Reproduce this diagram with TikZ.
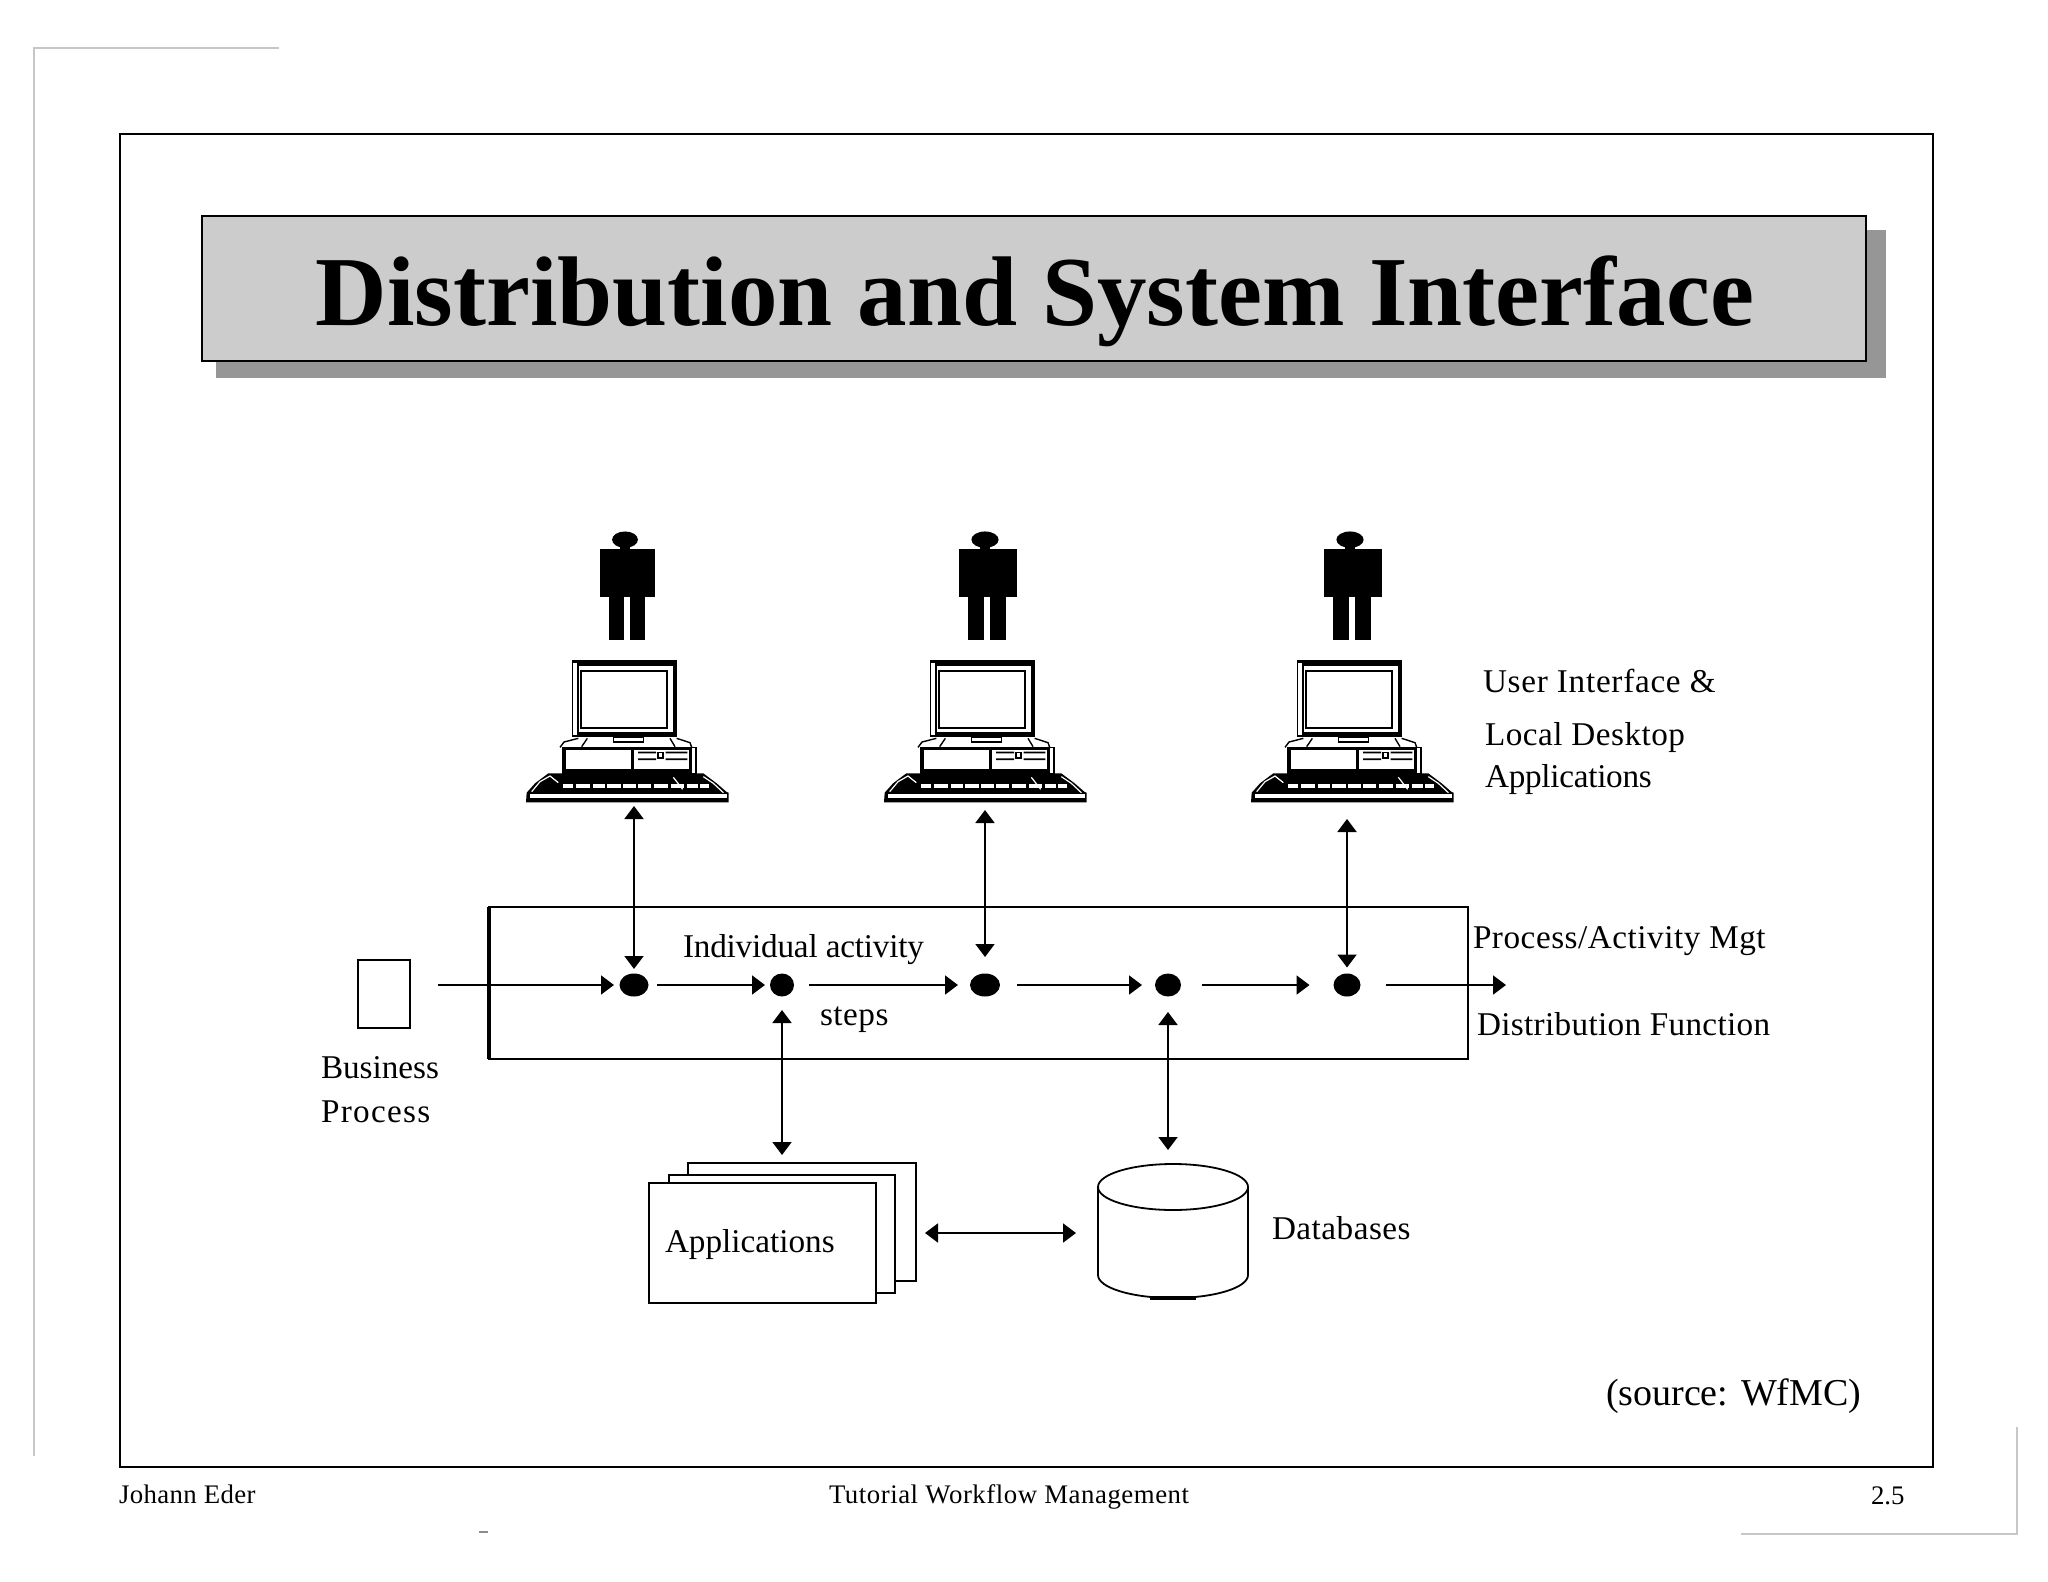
\documentclass[tikz,border=0pt]{standalone}
\usepackage{fontspec}
\setmainfont{Liberation Serif}
\usetikzlibrary{arrows.meta,shapes.geometric}
\newcommand{\fs}[1]{\fontsize{#1pt}{#1pt}\selectfont}
\newcommand{\ls}[1]{\addfontfeatures{LetterSpace=#1}}
\tikzset{
  cornerline/.style={line width=0.9pt,draw=black!22},
  lbl/.style={anchor=base west,inner sep=0pt,outer sep=0pt,font=\fs{16.6}},
  foot/.style={anchor=base west,inner sep=0pt,outer sep=0pt,font=\fs{13.4}},
  box/.style={draw,rectangle,inner sep=0pt,outer sep=0pt,line width=1.1pt,fill=white},
  ghost/.style={rectangle,inner sep=0pt,outer sep=0pt},
  dot/.style={ellipse,fill=black,inner sep=0pt,outer sep=0pt,minimum height=11.5pt},
  flow/.style={line width=0.95pt,-{Triangle[length=6.5pt,width=9.5pt]}},
  both/.style={line width=0.95pt,{Triangle[length=6.5pt,width=9.5pt]}-{Triangle[length=6.5pt,width=9.5pt]}},
  person/.pic={
    \begin{scope}[x=0.16667pt,y=-0.16667pt]
      \fill (0,119) ellipse [x radius=6.8pt,y radius=4.1pt];
      \fill (-16,130) rectangle (16,150);
      \fill (-78,146) rectangle (96,291);
      \fill (-50,280) rectangle (-3,419);
      \fill (15,280) rectangle (62,419);
    \end{scope}
  },
  computer/.pic={
    \begin{scope}[x=0.16667pt,y=-0.16667pt]
      % monitor
      \fill (215,480) rectangle (530,712);
      \fill[white] (219,490) rectangle (232,705);
      \fill[white] (238,497) rectangle (520,697);
      \draw[line width=1.1pt,fill=white] (243,514) rectangle (500,683);
      \draw[line width=0.8pt,fill=white] (340,712) rectangle (430,726);
      % desk lines
      \draw[line width=0.7pt] (180,742) -- (192,726) -- (235,715) (245,740) -- (262,715);
      \draw[line width=0.7pt] (510,715) -- (525,740) (530,715) -- (570,728) -- (575,742);
      % case
      \fill (185,740) rectangle (592,825);
      \fill[white] (197,750) rectangle (392,808);
      \fill[white] (402,750) rectangle (568,808);
      \fill[white] (575,745) rectangle (585,820);
      \fill (414,755) rectangle (468,760) (414,775) rectangle (468,780);
      \fill (497,755) rectangle (562,760) (497,775) rectangle (562,780);
      \fill (472,755) rectangle (492,778);
      \fill[white] (476,760) rectangle (487,770);
      % keyboard
      \fill (145,820) -- (610,820) -- (650,850) -- (680,876) -- (686,878) -- (686,907)
        -- (78,907) -- (80,878) -- (105,850) -- cycle;
      \fill[white] (90,881) rectangle (680,895);
      \foreach \a/\b in {190/220,228/270,278/315,322/362,370/408,415/452,462/505,513/552,560/595,600/628}
        \fill[white] (\a,852) rectangle (\b,864);
      \draw[white,line width=0.6pt] (95,875) -- (120,845) -- (150,828) -- (175,848);
      \draw[white,line width=0.6pt] (610,830) -- (640,850) -- (670,878);
      \draw[white,line width=0.6pt] (520,832) -- (548,868);
    \end{scope}
  }
}
\begin{document}
\begin{tikzpicture}[x=0.5pt,y=-0.5pt]
\useasboundingbox (0,0) rectangle (2048,1582);
\fill[white] (0,0) rectangle (2048,1582);

% page corners left from the scan
\draw[cornerline] (279,48) -- (34,48) -- (34,1456);
\draw[cornerline] (1741,1534) -- (2017,1534) -- (2017,1427);
\draw[black!45,line width=0.7pt] (479,1532) -- (488,1532);

% slide frame
\draw[line width=1.25pt] (120,134) rectangle (1933,1467);

% title
\fill[black!41] (216,230) rectangle (1886,378);
\node[box,fill=black!20,minimum width=832pt,minimum height=72.5pt] (titlebox) at (1034,288.5) {};
\node[anchor=base,inner sep=0pt,font=\fs{49.5}\bfseries] (title) at (1035,326) {Distribution and System Interface};

% people
\pic[xscale=0.95] at (625,500) {person};
\pic at (985,500) {person};
\pic at (1350,500) {person};

% computers
\pic at (500,500) {computer};
\pic at (858,500) {computer};
\pic at (1225,500) {computer};
\node[ghost,minimum width=101.5pt,minimum height=71pt] (pc1) at (627.5,731) {};
\node[ghost,minimum width=101.5pt,minimum height=71pt] (pc2) at (985.5,731) {};
\node[ghost,minimum width=101.5pt,minimum height=71pt] (pc3) at (1352.5,731) {};

% process box, document
\node[box,fill=none,minimum width=489.5pt,minimum height=76pt] (proc) at (978.5,983) {};
\draw[line width=2pt] (proc.north west) -- (proc.south west);
\node[box,line width=0.9pt,minimum width=26pt,minimum height=34pt] (doc) at (384,994) {};

% activity steps
\node[dot,minimum width=14.5pt] (d1) at (634,985) {};
\node[dot,minimum width=12pt] (d2) at (782,985) {};
\node[dot,minimum width=15pt] (d3) at (985,985) {};
\node[dot,minimum width=13pt] (d4) at (1168,985) {};
\node[dot,minimum width=13.5pt] (d5) at (1347,985) {};
\coordinate (out) at (1506,985);

% applications and database
\node[box,minimum width=114pt,minimum height=59pt] (back) at (802,1222) {};
\node[box,minimum width=113pt,minimum height=59pt] (mid) at (782,1234) {};
\node[box,minimum width=113.5pt,minimum height=60pt] (front) at (762.5,1243) {};
\node[ghost,minimum width=75pt,minimum height=67pt] (db) at (1173,1231) {};
\draw[line width=0.9pt] (1173,1187) ellipse [x radius=37.5pt,y radius=11.5pt];
\draw[line width=0.9pt] (1098,1187) -- (1098,1275) arc [start angle=180,end angle=360,x radius=37.5pt,y radius=11.5pt] -- (1248,1187);
\draw[line width=2pt] (1150,1298) -- (1196,1298);

% flow
\draw[flow,shorten <=14pt,shorten >=2.75pt] (doc.east |- d1) -- (d1);
\draw[flow,shorten <=4.25pt,shorten >=2.5pt] (d1) -- (d2);
\draw[flow,shorten <=7.5pt,shorten >=6pt] (d2) -- (d3);
\draw[flow,shorten <=8.5pt,shorten >=6.5pt] (d3) -- (d4);
\draw[flow,shorten <=10.5pt,shorten >=12pt] (d4) -- (d5);
\draw[flow,shorten <=12.75pt] (d5) -- (out);

% links up and down
\draw[both,shorten <=2pt,shorten >=2.25pt] (d1 |- pc1.south) -- (d1);
\draw[both,shorten <=4pt,shorten >=8.25pt] (d3 |- pc2.south) -- (d3);
\draw[both,shorten <=8.5pt,shorten >=3pt] (d5 |- pc3.south) -- (d5);
\draw[both,shorten <=6.75pt,shorten >=4pt] (d2) -- (d2 |- back.north);
\draw[both,shorten <=7.75pt,shorten >=7pt] (d4) -- (d4 |- db.north);
\draw[both,shorten <=4.5pt,shorten >=11pt] ([yshift=-5.5pt]back.east) -- ([yshift=-1pt]db.west);

% labels
\node[lbl] (lact) at (683,957) {\ls{-0.6}Individual activity};
\node[lbl] (lsteps) at (820,1025) {\ls{1.6}steps};
\node[lbl] (lbus) at (321,1078) {Business};
\node[lbl] (lproc) at (321,1122) {\ls{4}Process};
\node[lbl] (lapp) at (665,1252) {Applications};
\node[lbl] (ldb) at (1272,1239) {\ls{1.5}Databases};
\node[lbl] (lui) at (1483,692) {\ls{2.2}User Interface \&};
\node[lbl] (lld) at (1485,745) {\ls{1.5}Local Desktop};
\node[lbl] (lla) at (1485,787) {\ls{-0.8}Applications};
\node[lbl] (lpa) at (1473,948) {\ls{1.6}Process/Activity Mgt};
\node[lbl] (ldf) at (1477,1035) {\ls{1}Distribution Function};
\node[lbl,font=\fs{19}] (lsrc) at (1606,1405) {(source: WfMC)};

% footer
\node[foot] (fa) at (119,1503) {\ls{1.35}Johann Eder};
\node[foot] (fb) at (829,1503) {\ls{2}Tutorial Workflow Management};
\node[foot] (fc) at (1871,1504) {2.5};
\end{tikzpicture}
\end{document}
